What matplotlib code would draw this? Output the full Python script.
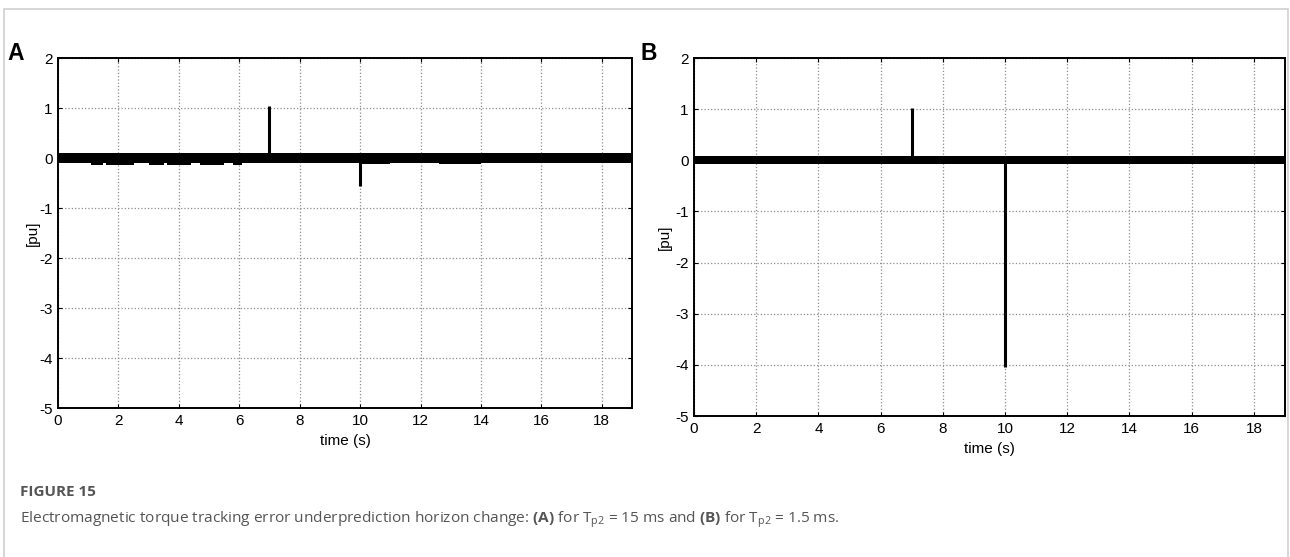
import matplotlib
matplotlib.use("Agg")
import matplotlib.pyplot as plt
from matplotlib.patches import Rectangle

plt.rcParams['font.family'] = ['Liberation Sans', 'DejaVu Sans']

CAP_FONT = 'Open Sans'
plt.rcParams['mathtext.fontset'] = 'custom'
plt.rcParams['mathtext.rm'] = CAP_FONT
plt.rcParams['mathtext.bf'] = CAP_FONT + ':bold'
plt.rcParams['mathtext.it'] = CAP_FONT + ':italic'

# ---------------- data ----------------
x_ticks = [0, 2, 4, 6, 8, 10, 12, 14, 16, 18]
y_ticks = [-5, -4, -3, -2, -1, 0, 1, 2]

# Panel A: spikes (time, value) and noise band edges
a_spike_t = [7.0, 10.0]
a_spike_v = [1.05, -0.55]
a_band_t = [0.0, 1.1, 1.1, 1.5, 1.5, 1.6, 1.6, 2.5, 2.5, 3.0, 3.0, 3.5, 3.5, 3.6, 3.6, 4.4,
            4.4, 4.7, 4.7, 5.5, 5.5, 5.8, 5.8, 6.1, 6.1, 10.0, 10.0, 11.0, 11.0, 12.6,
            12.6, 14.0, 14.0, 19.0]
a_band_hi = [0.1] * len(a_band_t)
a_band_lo = [-0.09, -0.09, -0.13, -0.13, -0.1, -0.1, -0.13, -0.13, -0.1, -0.1, -0.13, -0.13,
             -0.1, -0.1, -0.13, -0.13, -0.1, -0.1, -0.13, -0.13, -0.1, -0.1, -0.13, -0.13,
             -0.09, -0.09, -0.12, -0.12, -0.1, -0.1, -0.12, -0.12, -0.09, -0.09]

# Panel B
b_spike_t = [7.0, 10.0]
b_spike_v = [1.02, -4.05]
b_band_t = [0.0, 19.0]
b_band_hi = [0.09, 0.09]
b_band_lo = [-0.08, -0.08]

W, H = 1290, 557
fig = plt.figure(figsize=(W / 100, H / 100), dpi=100)

# outer light frame (journal figure box)
fig.patches.append(Rectangle((4 / W, -0.05), (1288 - 4) / W, 1.05 - 9 / H,
                             transform=fig.transFigure, fill=False,
                             edgecolor='#cfcfcf', lw=1.2))


def make_ax(rect_px, spike_t, spike_v, band_t, band_hi, band_lo, letter, letter_x, ylpad):
    l, t, r, b = rect_px
    ax = fig.add_axes([l / W, 1 - b / H, (r - l) / W, (b - t) / H])
    ax.fill_between(band_t, band_lo, band_hi, color='black', lw=0, zorder=3)
    for st, sv in zip(spike_t, spike_v):
        ax.plot([st, st], [0, sv], color='black', lw=2.2, solid_capstyle='butt', zorder=3)
    ax.set_xlim(0, 19)
    ax.set_ylim(-5, 2)
    ax.set_xticks(x_ticks)
    ax.set_yticks(y_ticks)
    ax.set_xticklabels([str(v) for v in x_ticks])
    ax.set_yticklabels([str(v) for v in y_ticks])
    ax.tick_params(direction='in', length=3, width=0.8, top=True, right=True,
                   labelsize=11, pad=4, colors='black')
    ax.grid(True, color='#8c8c8c', linestyle=':', linewidth=0.9, zorder=1)
    for s in ax.spines.values():
        s.set_linewidth(1.4)
        s.set_color('black')
        s.set_zorder(4)
    ax.set_xlabel('time (s)', fontsize=11, labelpad=5)
    ax.set_ylabel('[pu]', fontsize=11, labelpad=ylpad)
    fig.text(letter_x / W, 1 - 53 / H, letter, fontsize=16.5, fontweight='bold',
             va='center', ha='left', family=['Liberation Sans'])
    return ax


make_ax((58, 58, 632, 408), a_spike_t, a_spike_v, a_band_t, a_band_hi, a_band_lo, 'A', 7, -1)
make_ax((694, 58, 1285, 416), b_spike_t, b_spike_v, b_band_t, b_band_hi, b_band_lo, 'B', 641, 2)

cap_color = '#555555'
fig.text(20 / W, 1 - 492 / H, 'FIGURE 15', fontsize=11, fontweight='bold', color=cap_color,
         family=[CAP_FONT], va='center', ha='left')
fig.text(20 / W, 1 - 520 / H,
         r'Electromagnetic torque tracking error underprediction horizon change: $\mathbf{(A)}$ for '
         r'T$_{\mathrm{p2}}$ = 15 ms and $\mathbf{(B)}$ for T$_{\mathrm{p2}}$ = 1.5 ms.',
         fontsize=11.1, color=cap_color, family=[CAP_FONT], va='center', ha='left')

fig.savefig('out.png', dpi=100)
